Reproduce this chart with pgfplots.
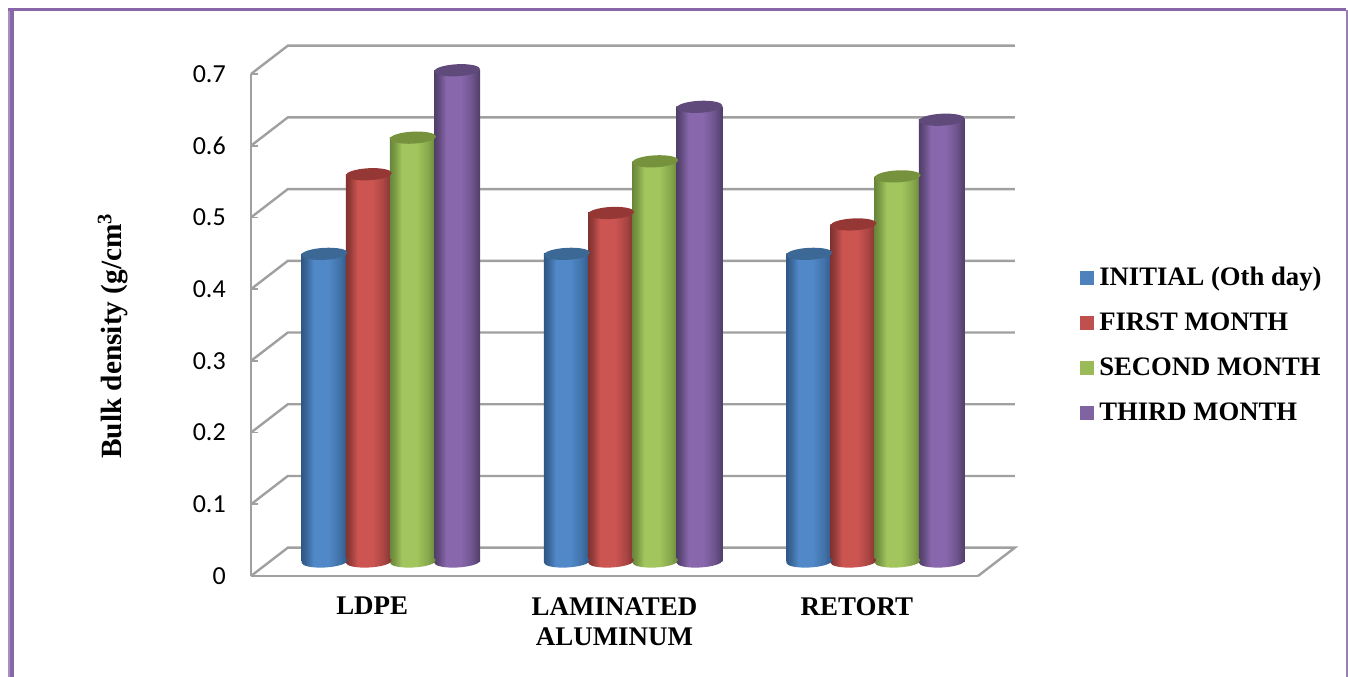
\documentclass[border=0pt]{standalone}
\usepackage{pgfplots}
\pgfplotsset{compat=1.18}
\usepackage{pgfplotstable}
\usepackage{fontspec}
\setmainfont{Liberation Serif}
\newfontfamily\numfont{Carlito}

\newdimen\px \px=0.75pt

\definecolor{framegray}{HTML}{A0A0A0}
\definecolor{borderpurple}{HTML}{8767A8}
\definecolor{borderlight}{HTML}{A890C0}
\definecolor{legblue}{HTML}{4F81BD}
\definecolor{legred}{HTML}{C0504D}
\definecolor{leggreen}{HTML}{9BBB59}
\definecolor{legpurple}{HTML}{8064A2}
\definecolor{capblue}{HTML}{3C6896}
\definecolor{capred}{HTML}{953735}
\definecolor{capgreen}{HTML}{76923C}
\definecolor{cappurple}{HTML}{604A7B}
\definecolor{rimblue}{HTML}{305884}
\definecolor{midblue}{HTML}{5088C8}
\definecolor{rimred}{HTML}{803230}
\definecolor{midred}{HTML}{CC5552}
\definecolor{rimgreen}{HTML}{69873A}
\definecolor{midgreen}{HTML}{A2C55D}
\definecolor{rimpurple}{HTML}{503E69}
\definecolor{midpurple}{HTML}{8867AC}

% Horizontal cylinder shadings: dark rims, flat lighter centre
\newcommand\cylshade[3]{%
  \colorlet{#1a}{#2!70!#3}\colorlet{#1b}{#2!45!#3}%
  \pgfdeclarehorizontalshading{#1}{100bp}{%
    color(0bp)=(#2); color(25bp)=(#2); color(30bp)=(#1a);
    color(38bp)=(#3); color(54bp)=(#3); color(66bp)=(#1b);
    color(75bp)=(#2); color(100bp)=(#2)}}
\cylshade{cylblue}{rimblue}{midblue}
\cylshade{cylred}{rimred}{midred}
\cylshade{cylgreen}{rimgreen}{midgreen}
\cylshade{cylpurple}{rimpurple}{midpurple}

% Ellipse outline shared by the cylinder ends, tilted slightly upward to the right
\newcommand\cylellipse{\pgfpathellipse{\pgfpointorigin}{\pgfpoint{23\px}{1.2\px}}{\pgfpoint{-0.3\px}{6\px}}}
\pgfdeclareplotmark{cylcap}{\cylellipse\pgfusepathqfill}
\newcommand\footmark[1]{\pgfdeclareplotmark{foot#1}{\cylellipse\pgfshadepath{#1}{0}\pgfusepath{discard}}}
\footmark{cylblue}\footmark{cylred}\footmark{cylgreen}\footmark{cylpurple}

% Bulk density per packaging; x = group index + position of the cylinder in its group
\pgfplotstableread{
x y
-0.2735 0.429
0.7265 0.429
1.7265 0.429
}\initialdata
\pgfplotstableread{
x y
-0.0912 0.540
0.9088 0.486
1.9088 0.470
}\firstdata
\pgfplotstableread{
x y
0.0912 0.591
1.0912 0.558
2.0912 0.537
}\seconddata
\pgfplotstableread{
x y
0.2735 0.685
1.2735 0.634
2.2735 0.616
}\thirddata

% One shaded body per group, so that each cylinder gets its own shading
\newcommand\cylbody[3]{%
  \addplot[ybar, bar width=46\px, bar shift=0pt, draw=none, shade, shading=#2,
    restrict x to domain=#3] table[x=x,y=y] {#1};
}
\newcommand\cylinder[3]{%
  \addplot[only marks, mark=foot#2] table[x=x,y expr=0] {#1};
  \cylbody{#1}{#2}{-0.5:0.5}
  \cylbody{#1}{#2}{0.5:1.5}
  \cylbody{#1}{#2}{1.5:2.5}
  \addplot[only marks, mark=cylcap, mark options={fill=#3,draw=none}] table[x=x,y=y] {#1};
}

\pgfplotsset{
  common/.style={
    scale only axis, width=727\px, height=502\px,
    xmin=-0.5, xmax=2.5, ymin=0, ymax=0.7, clip=false,
  },
}

\begin{document}
\begin{tikzpicture}[x=1pt,y=1pt]
\useasboundingbox (-251\px,-101\px) rectangle (1097\px,576\px);
% page border
\fill[borderlight] (-243\px,-101\px) rectangle (-241\px,568\px);
\fill[borderpurple] (-241\px,-101\px) rectangle (-237\px,568\px);
\fill[borderpurple] (-243\px,568\px) rectangle (1095\px,564.5\px);
\fill[borderpurple!85] (1095\px,-101\px) rectangle (1097\px,566\px);

\begin{axis}[common, at={(0,0)}, anchor=south west,
  axis x line*=bottom, axis y line*=left,
  axis line style={framegray, line width=2.4\px},
  tick style={framegray, line width=1.8\px},
  ytick={0,0.1,0.2,0.3,0.4,0.5,0.6,0.7},
  yticklabels={0,0.1,0.2,0.3,0.4,0.5,0.6,0.7},
  major tick length=7\px,
  yticklabel style={font=\numfont\fontsize{19.5}{22}\selectfont, /pgf/number format/assume math mode=true, inner sep=0pt, xshift=-25\px},
  xtick={0,1,2},
  xticklabels={LDPE,{LAMINATED\\ALUMINUM},RETORT},
  x tick style={draw=none},
  xticklabel style={font=\bfseries\fontsize{20.2}{22.5}\selectfont, align=center, inner sep=0pt, yshift=-21\px},
  extra x ticks={-0.5,0.5,1.5,2.5},
  extra x tick labels={},
  extra x tick style={tick style={framegray, line width=1.8\px}},
  every axis y label/.style={at={(axis description cs:-0.19,0.478)},rotate=90,anchor=center},
  ylabel={\bfseries\fontsize{22}{24}\selectfont Bulk density (g/cm\textsuperscript{3}},
  legend image code/.code={\fill[#1,draw=none] (0,-7\px) rectangle (14\px,7\px);},
  legend style={at={(829\px,311\px)}, anchor=north west, draw=none, fill=none, inner sep=0pt,
    font=\bfseries\fontsize{20}{22}\selectfont, row sep=19\px,
    nodes={inner sep=0pt, text height=20\px, text depth=6\px},
    /tikz/every odd column/.append style={column sep=5\px}},
  legend cell align=left,
]
% side walls and back wall of the chart box
\addplot[framegray, line width=2.4\px, forget plot] coordinates {(-0.5,0.1) (-0.348,0.1395) (2.652,0.1395)};
\addplot[framegray, line width=2.4\px, forget plot] coordinates {(-0.5,0.2) (-0.348,0.2395) (2.652,0.2395)};
\addplot[framegray, line width=2.4\px, forget plot] coordinates {(-0.5,0.3) (-0.348,0.3395) (2.652,0.3395)};
\addplot[framegray, line width=2.4\px, forget plot] coordinates {(-0.5,0.4) (-0.348,0.4395) (2.652,0.4395)};
\addplot[framegray, line width=2.4\px, forget plot] coordinates {(-0.5,0.5) (-0.348,0.5395) (2.652,0.5395)};
\addplot[framegray, line width=2.4\px, forget plot] coordinates {(-0.5,0.6) (-0.348,0.6395) (2.652,0.6395)};
\addplot[framegray, line width=2.4\px, forget plot] coordinates {(-0.5,0.7) (-0.348,0.7395) (2.652,0.7395)};
\addplot[framegray, line width=2.4\px, forget plot] coordinates {(-0.5,0) (-0.348,0.0395) (2.652,0.0395) (2.5,0)};
\addlegendimage{fill=legblue}\addlegendentry{INITIAL (Oth day)}
\addlegendimage{fill=legred}\addlegendentry{FIRST MONTH}
\addlegendimage{fill=leggreen}\addlegendentry{SECOND MONTH}
\addlegendimage{fill=legpurple}\addlegendentry{THIRD MONTH}
\end{axis}

% the cylinders stand halfway into the box depth
\begin{axis}[common, at={(18.7\px,14.5\px)}, anchor=south west, hide axis]
\cylinder{\initialdata}{cylblue}{capblue}
\cylinder{\firstdata}{cylred}{capred}
\cylinder{\seconddata}{cylgreen}{capgreen}
\cylinder{\thirddata}{cylpurple}{cappurple}
\end{axis}
\end{tikzpicture}
\end{document}
